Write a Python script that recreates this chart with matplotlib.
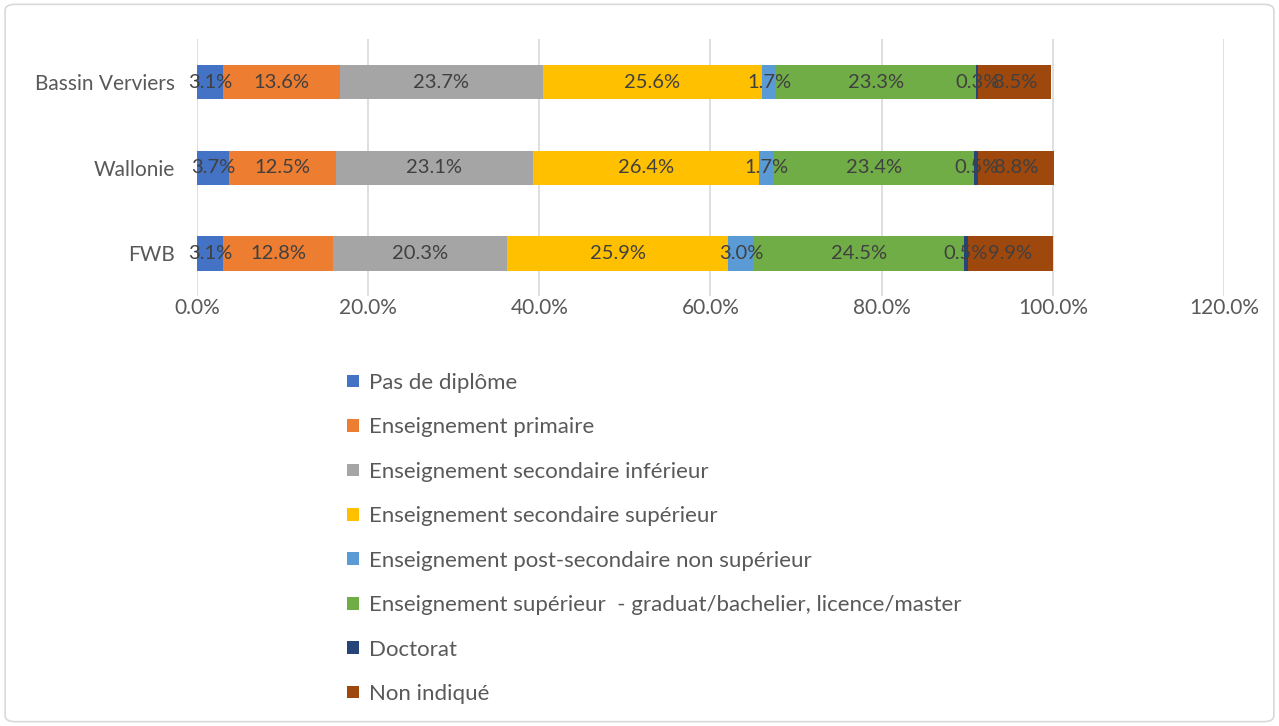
import numpy as np
import matplotlib
matplotlib.use('Agg')
import matplotlib.pyplot as plt
from matplotlib.patches import FancyBboxPatch
from matplotlib.ticker import FuncFormatter

plt.rcParams['font.family'] = ['Lato', 'DejaVu Sans']

regions = ['FWB', 'Wallonie', 'Bassin Verviers']
levels = ['Pas de diplôme',
          'Enseignement primaire',
          'Enseignement secondaire inférieur',
          'Enseignement secondaire supérieur',
          'Enseignement post-secondaire non supérieur',
          'Enseignement supérieur  - graduat/bachelier, licence/master',
          'Doctorat',
          'Non indiqué']
# values in %, one list per level, order = regions
pas_diplome = [3.1, 3.7, 3.1]
primaire = [12.8, 12.5, 13.6]
sec_inf = [20.3, 23.1, 23.7]
sec_sup = [25.9, 26.4, 25.6]
post_sec = [3.0, 1.7, 1.7]
superieur = [24.5, 23.4, 23.3]
doctorat = [0.5, 0.5, 0.3]
non_indique = [9.9, 8.8, 8.5]

series = [pas_diplome, primaire, sec_inf, sec_sup, post_sec, superieur, doctorat, non_indique]
colors = ['#4472C4', '#ED7D31', '#A5A5A5', '#FFC000', '#5B9BD5', '#70AD47', '#264478', '#9E480E']

fig = plt.figure(figsize=(12.79, 7.26), dpi=100)
ax = fig.add_axes([0.154, 0.592, 0.803, 0.354])

y = np.arange(len(regions))
left = np.zeros(len(regions))
for vals, name, col in zip(series, levels, colors):
    v = np.array(vals) / 100.0
    ax.barh(y, v, left=left, height=0.4, color=col, label=name, zorder=3)
    for yi, l, w in zip(y, left, v):
        ax.text(l + w / 2, yi, '%.1f%%' % (w * 100), ha='center', va='center',
                fontsize=14.5, color='#404040', zorder=4)
    left += v

ax.set_xlim(0, 1.2)
ax.set_ylim(-0.5, 2.5)
ax.set_xticks(np.arange(0, 1.21, 0.2))
ax.xaxis.set_major_formatter(FuncFormatter(lambda x, p: '%.1f%%' % (x * 100)))
ax.set_yticks(y)
ax.set_yticklabels(regions)
ax.tick_params(length=0, labelsize=15, labelcolor='#595959')
ax.tick_params(axis='y', pad=16)
ax.tick_params(axis='x', pad=1)
ax.grid(axis='x', color='#D9D9D9', linewidth=1.2, zorder=0)
for s in ax.spines.values():
    s.set_visible(False)

h, lab = ax.get_legend_handles_labels()
leg = fig.legend(h, lab, loc='upper left', bbox_to_anchor=(0.256, 0.514), ncol=1,
                 frameon=False, fontsize=16, handlelength=0.5, handleheight=0.5,
                 handletextpad=0.45, labelspacing=1.1)
for t in leg.get_texts():
    t.set_color('#595959')

fig.patches.append(FancyBboxPatch((0.004, 0.006), 0.992, 0.988,
                                  boxstyle='round,pad=0,rounding_size=0.008',
                                  transform=fig.transFigure, fill=False,
                                  edgecolor='#D9D9D9', linewidth=1.2))

fig.savefig('out.png', dpi=100)
